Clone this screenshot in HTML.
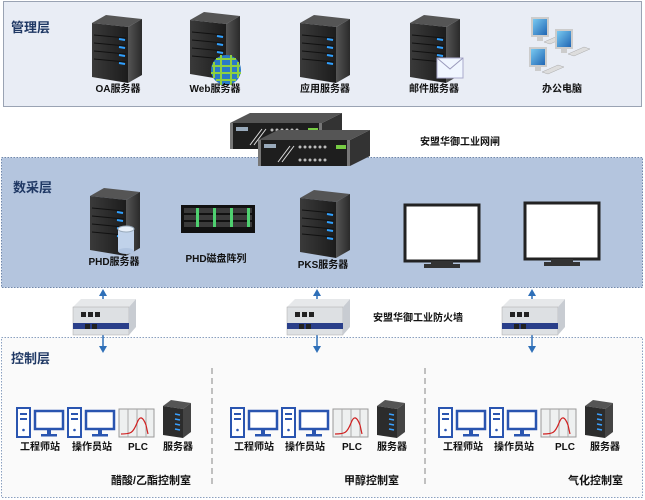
<!DOCTYPE html>
<html><head><meta charset="utf-8"><style>
html,body{margin:0;padding:0;background:#fff;width:645px;height:500px;overflow:hidden}
svg text{font-family:"Liberation Sans","Noto Sans CJK SC",sans-serif;font-weight:bold;fill:#111}
</style></head><body>
<svg width="645" height="500" viewBox="0 0 645 500" xmlns="http://www.w3.org/2000/svg">
<defs>
<linearGradient id="sf" x1="0" x2="1"><stop offset="0" stop-color="#3a3a3a"/><stop offset="1" stop-color="#1c1c1c"/></linearGradient>
<linearGradient id="ss" x1="0" x2="1"><stop offset="0" stop-color="#555"/><stop offset="1" stop-color="#2a2a2a"/></linearGradient>
<linearGradient id="scr" x1="0" y1="0" x2="1" y2="1"><stop offset="0" stop-color="#7fd0f5"/><stop offset="1" stop-color="#1a5fb0"/></linearGradient>
<g id="srv">
 <polygon points="0,8 14,0 50,4 36,12" fill="#555"/>
 <polygon points="0,8 36,12 36,68 0,62" fill="url(#sf)"/>
 <polygon points="36,12 50,4 50,60 36,68" fill="url(#ss)"/>
 <g stroke="#111" stroke-width="1"><line x1="2" y1="20" x2="34" y2="23"/><line x1="2" y1="28" x2="34" y2="31"/><line x1="2" y1="36" x2="34" y2="39"/><line x1="2" y1="44" x2="34" y2="47"/></g>
 <g stroke="#2fa0ff" stroke-width="2"><line x1="27" y1="24" x2="33" y2="25"/><line x1="27" y1="32" x2="33" y2="33"/><line x1="27" y1="40" x2="33" y2="41"/><line x1="27" y1="48" x2="33" y2="49"/></g>
</g>
<g id="ws">
 <rect x="0" y="0" width="13" height="29" fill="#fff" stroke="#2a55b0" stroke-width="2"/>
 <rect x="3" y="5" width="7" height="2" fill="#2a55b0"/><rect x="3" y="10" width="7" height="2" fill="#2a55b0"/><circle cx="6.5" cy="22" r="1.3" fill="#2a55b0"/>
 <rect x="18" y="3" width="28" height="18" fill="#fff" stroke="#2a55b0" stroke-width="2.5"/>
 <rect x="30" y="21" width="4" height="6" fill="#2a55b0"/><rect x="24" y="26" width="16" height="2.5" fill="#2a55b0"/>
</g>
<g id="plc">
 <rect x="0" y="0" width="35" height="28" fill="#eef0f0" stroke="#999"/>
 <line x1="9" y1="0" x2="9" y2="28" stroke="#aaa"/><line x1="18" y1="0" x2="18" y2="28" stroke="#aaa"/><line x1="27" y1="0" x2="27" y2="28" stroke="#aaa"/>
 <path d="M2,25 C12,25 14,24 18,14 C21,6 24,8 27,16 L29,25" stroke="#d02020" fill="none" stroke-width="1.2"/>
</g>
<g id="rack">
 <polygon points="0,6 8,0 28,3 20,9" fill="#555"/>
 <polygon points="0,6 20,9 20,38 0,35" fill="#2c2c2c"/>
 <polygon points="20,9 28,3 28,32 20,38" fill="#444"/>
 <g stroke="#3aa0ff" stroke-width="1.5"><line x1="12" y1="14" x2="17" y2="15"/><line x1="12" y1="19" x2="17" y2="20"/><line x1="12" y1="24" x2="17" y2="25"/><line x1="12" y1="29" x2="17" y2="30"/></g>
</g>
<g id="fw">
 <polygon points="0,8 8,0 63,0 56,8" fill="#e6e8ea"/>
 <rect x="0" y="8" width="56" height="28" fill="#dde0e3" stroke="#aaa" stroke-width="0.5"/>
 <polygon points="56,8 63,0 63,28 56,36" fill="#c8ccd2"/>
 <rect x="8" y="13" width="5" height="5" fill="#222"/><rect x="15" y="13" width="5" height="5" fill="#222"/><rect x="22" y="13" width="5" height="5" fill="#222"/>
 <rect x="0" y="24" width="56" height="6" fill="#2a3f8a"/>
 <rect x="12" y="25" width="5" height="5" fill="#222"/><rect x="19" y="25" width="5" height="5" fill="#222"/>
</g>
<g id="gw">
 <polygon points="0,10 20,0 112,0 92,10" fill="#555"/>
 <rect x="0" y="10" width="92" height="26" fill="#1e1e1e"/>
 <polygon points="92,10 112,0 112,26 92,36" fill="#333"/>
 <rect x="0" y="10" width="3" height="26" fill="#777"/><rect x="89" y="10" width="3" height="26" fill="#777"/>
 <rect x="6" y="14" width="12" height="4" fill="#9ab"/>
 <path d="M20,32 L32,16 M24,32 L36,16" stroke="#ddd" stroke-width="1"/>
 <g fill="#bbb"><circle cx="42" cy="17" r="1.5"/><circle cx="47" cy="17" r="1.5"/><circle cx="52" cy="17" r="1.5"/><circle cx="57" cy="17" r="1.5"/><circle cx="62" cy="17" r="1.5"/><circle cx="67" cy="17" r="1.5"/>
 <circle cx="42" cy="30" r="1.5"/><circle cx="47" cy="30" r="1.5"/><circle cx="52" cy="30" r="1.5"/><circle cx="57" cy="30" r="1.5"/><circle cx="62" cy="30" r="1.5"/><circle cx="67" cy="30" r="1.5"/></g>
 <rect x="78" y="15" width="10" height="4" fill="#7c4"/>
</g>
<g id="mon">
 <rect x="0" y="0" width="74" height="56" fill="#fff" stroke="#222" stroke-width="3"/>
 <rect x="26" y="56" width="22" height="4" fill="#333"/><rect x="19" y="59" width="36" height="4" fill="#333"/>
</g>
<g id="pc">
 <rect x="0" y="0" width="16" height="18" fill="url(#scr)" stroke="#ccc" stroke-width="2"/>
 <rect x="5" y="19" width="6" height="4" fill="#ccc"/>
 <polygon points="12,24 28,17 34,19 18,26" fill="#ddd" stroke="#aaa" stroke-width="0.5"/>
</g>
</defs>

<!-- management layer -->
<rect x="3.5" y="1.5" width="638" height="105" fill="#e9edf5" stroke="#9aa3b3"/>
<text x="11" y="32" font-size="13" style="fill:#1f3864">管理层</text>
<use href="#srv" x="92" y="15"/>
<use href="#srv" x="190" y="12"/>
<g transform="translate(226,70)"><circle r="15" fill="#2a7ac8"/><path d="M-14,-4 H14 M-15,3 H15 M-10,-11 H10 M-10,10 H10 M-5,-15 V15 M5,-15 V15 M-12,-8 V8 M12,-8 V8" stroke="#8ed040" stroke-width="2"/></g>
<use href="#srv" x="300" y="15"/>
<use href="#srv" x="410" y="15"/>
<g transform="translate(437,58)"><rect width="26" height="20" fill="#f0f6ff" stroke="#aac"/><path d="M0,0 L13,11 L26,0" stroke="#99b" fill="none"/></g>
<use href="#pc" x="532" y="18"/><use href="#pc" x="556" y="30"/><use href="#pc" x="530" y="48"/>
<g font-size="10" text-anchor="middle">
<text x="118" y="92">OA服务器</text><text x="215" y="92">Web服务器</text><text x="325" y="92">应用服务器</text><text x="434" y="92">邮件服务器</text><text x="562" y="92">办公电脑</text>
</g>

<!-- data layer -->
<rect x="1.5" y="157.5" width="641" height="130" fill="#b4c5de" stroke="#6f87ab" stroke-dasharray="1.5,1.5"/>
<text x="13" y="192" font-size="13" style="fill:#1f3864">数采层</text>
<use href="#srv" x="90" y="188"/>
<g transform="translate(118,225)"><rect x="0" y="4" width="16" height="22" fill="#c0d2ea"/><ellipse cx="8" cy="26" rx="8" ry="3" fill="#b0c4e0"/><ellipse cx="8" cy="4" rx="8" ry="3" fill="#e8f0fa" stroke="#9ab"/></g>
<g transform="translate(181,205)"><rect width="74" height="28" fill="#111"/>
<g fill="#3a3a3a"><rect x="3" y="3" width="68" height="5"/><rect x="3" y="10" width="68" height="5"/><rect x="3" y="17" width="68" height="5"/></g>
<g fill="#4fd070"><rect x="15" y="3" width="3" height="19"/><rect x="32" y="3" width="3" height="19"/><rect x="49" y="3" width="3" height="19"/><rect x="66" y="3" width="3" height="19"/></g></g>
<use href="#srv" x="300" y="190"/>
<use href="#mon" x="405" y="205"/>
<use href="#mon" x="525" y="203"/>
<g font-size="10" text-anchor="middle">
<text x="114" y="265">PHD服务器</text><text x="216" y="262">PHD磁盘阵列</text><text x="323" y="268">PKS服务器</text>
</g>

<!-- gateway -->
<use href="#gw" x="230" y="113"/>
<use href="#gw" x="258" y="130"/>
<text x="420" y="145" font-size="10">安盟华御工业网闸</text>

<!-- control layer -->
<rect x="1.5" y="337.5" width="641" height="160" fill="#fafafa" stroke="#8aa0c0" stroke-dasharray="1.5,1.5"/>
<text x="11" y="363" font-size="13" style="fill:#1f3864">控制层</text>
<g stroke="#999" stroke-dasharray="6,4" stroke-width="1.2"><line x1="212" y1="368" x2="212" y2="486"/><line x1="425" y1="368" x2="425" y2="486"/></g>

<!-- arrows & firewalls -->
<g stroke="#2e6fb8" stroke-width="1.5" fill="#2e6fb8">
<line x1="103" y1="292" x2="103" y2="350"/><line x1="317" y1="292" x2="317" y2="350"/><line x1="532" y1="292" x2="532" y2="350"/>
<polygon points="99,296 103,289 107,296" stroke="none"/><polygon points="99,346 103,353 107,346" stroke="none"/>
<polygon points="313,296 317,289 321,296" stroke="none"/><polygon points="313,346 317,353 321,346" stroke="none"/>
<polygon points="528,296 532,289 536,296" stroke="none"/><polygon points="528,346 532,353 536,346" stroke="none"/>
</g>
<use href="#fw" x="73" y="299"/><use href="#fw" x="287" y="299"/><use href="#fw" x="502" y="299"/>
<text x="373" y="321" font-size="10">安盟华御工业防火墙</text>

<g id="room">
<use href="#ws" x="17" y="408"/><use href="#ws" x="68" y="408"/><use href="#plc" x="119" y="409"/><use href="#rack" x="163" y="400"/>
</g>
<use href="#room" x="214"/>
<use href="#room" x="422"/>
<g font-size="10" text-anchor="middle">
<text x="40" y="450">工程师站</text><text x="92" y="450">操作员站</text><text x="138" y="450">PLC</text><text x="178" y="450">服务器</text>
<text x="254" y="450">工程师站</text><text x="305" y="450">操作员站</text><text x="352" y="450">PLC</text><text x="392" y="450">服务器</text>
<text x="463" y="450">工程师站</text><text x="514" y="450">操作员站</text><text x="565" y="450">PLC</text><text x="605" y="450">服务器</text>
</g>
<g font-size="11" text-anchor="end">
<text x="191" y="484">醋酸/乙酯控制室</text><text x="399" y="484">甲醇控制室</text><text x="623" y="484">气化控制室</text>
</g>
</svg>
</body></html>
